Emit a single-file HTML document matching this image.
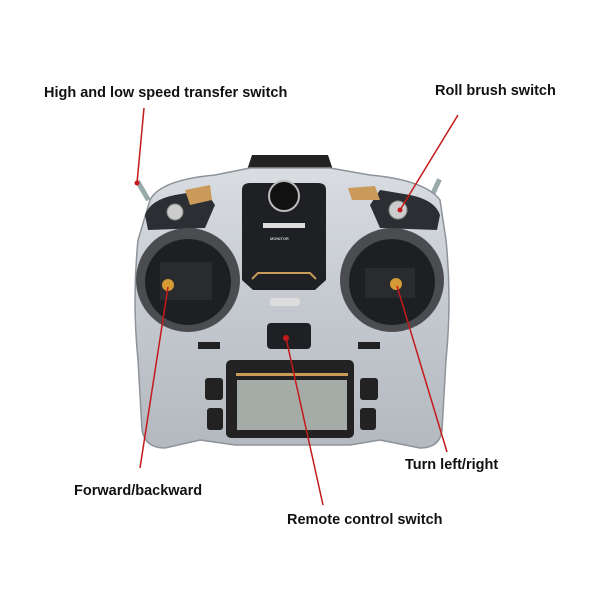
<!DOCTYPE html>
<html><head><style>
body{margin:0;background:#fff;}
svg{display:block}
text{font-family:"Liberation Sans",sans-serif;font-weight:bold;font-size:14.5px;fill:#111}
</style></head><body>
<svg width="600" height="600" viewBox="0 0 600 600">
<defs>
<linearGradient id="b" x1="0" y1="0" x2="0" y2="1"><stop offset="0" stop-color="#d9dde2"/><stop offset="0.5" stop-color="#c4c9cf"/><stop offset="1" stop-color="#b4b9bf"/></linearGradient>
</defs>
<rect x="140" y="180" width="5" height="22" fill="#9aa" transform="rotate(-30 142 190)"/>
<rect x="432" y="178" width="5" height="22" fill="#9aa" transform="rotate(25 434 190)"/>
<path d="M247 170 L252 155 L328 155 L333 170 Z" fill="#222"/>
<path d="M150 200 Q160 180 215 175 L250 168 L330 168 L370 175 Q425 180 440 200 L446 240 Q452 300 446 360 L442 430 Q440 448 420 448 L380 440 L350 445 L235 445 L200 440 L165 448 Q145 448 142 430 L138 360 Q132 300 138 240 Z" fill="url(#b)" stroke="#8d939a" stroke-width="1.5"/>
<path d="M145 215 Q150 200 175 195 L205 190 L215 205 L205 228 L148 230 Z" fill="#2b2e33"/>
<path d="M185 190 L210 185 L212 200 L190 205 Z" fill="#c99a5a"/>
<path d="M440 215 Q435 200 410 195 L380 190 L370 205 L380 228 L437 230 Z" fill="#2b2e33"/>
<path d="M348 188 L375 186 L380 200 L352 200 Z" fill="#c99a5a"/>
<circle cx="175" cy="212" r="8" fill="#ccc" stroke="#888"/>
<circle cx="398" cy="210" r="9" fill="#ccc" stroke="#888"/>
<circle cx="188" cy="280" r="52" fill="#4a4c50"/>
<circle cx="188" cy="282" r="43" fill="#1e1f22"/>
<rect x="160" y="262" width="52" height="38" fill="#2a2b2e"/>
<circle cx="392" cy="280" r="52" fill="#4a4c50"/>
<circle cx="392" cy="282" r="43" fill="#1e1f22"/>
<rect x="365" y="268" width="50" height="30" fill="#2a2b2e"/>
<circle cx="168" cy="285" r="6" fill="#d39a35"/>
<circle cx="396" cy="284" r="6" fill="#d39a35"/>
<path d="M242 190 Q242 183 250 183 L318 183 Q326 183 326 190 L326 280 L315 290 L253 290 L242 280 Z" fill="#1f2024"/>
<circle cx="284" cy="196" r="15" fill="#111" stroke="#bbb" stroke-width="2"/>
<rect x="263" y="223" width="42" height="5" fill="#ddd"/>
<text x="270" y="240" style="font-size:4px;fill:#ccc">MONITOR</text>
<path d="M252 279 L258 273 L310 273 L316 279" fill="none" stroke="#c99a5a" stroke-width="2"/>
<rect x="270" y="298" width="30" height="8" rx="3" fill="#ddd"/>
<rect x="267" y="323" width="44" height="26" rx="4" fill="#1f2024"/>
<rect x="198" y="342" width="22" height="7" fill="#222"/>
<rect x="358" y="342" width="22" height="7" fill="#222"/>
<rect x="226" y="360" width="128" height="78" rx="5" fill="#222"/>
<rect x="236" y="373" width="112" height="3" fill="#c99a5a"/>
<rect x="237" y="380" width="110" height="50" fill="#a5aca8"/>
<rect x="205" y="378" width="18" height="22" rx="3" fill="#222"/>
<rect x="207" y="408" width="16" height="22" rx="3" fill="#222"/>
<rect x="360" y="378" width="18" height="22" rx="3" fill="#222"/>
<rect x="360" y="408" width="16" height="22" rx="3" fill="#222"/>
<g stroke="#c41a1a" stroke-width="1.5" fill="none">
<line x1="144" y1="108" x2="137" y2="183"/>
<line x1="458" y1="115" x2="400" y2="210"/>
<line x1="168" y1="287" x2="140" y2="468"/>
<line x1="397" y1="286" x2="447" y2="452"/>
<line x1="286" y1="338" x2="323" y2="505"/>
</g>
<circle cx="137" cy="183" r="2.5" fill="#c41a1a"/>
<circle cx="400" cy="210" r="2.5" fill="#c41a1a"/>
<circle cx="286" cy="338" r="3" fill="#c41a1a"/>
<text x="44" y="97">High and low speed transfer switch</text>
<text x="435" y="95">Roll brush switch</text>
<text x="74" y="495">Forward/backward</text>
<text x="405" y="469">Turn left/right</text>
<text x="287" y="524">Remote control switch</text>
</svg>
</body></html>
